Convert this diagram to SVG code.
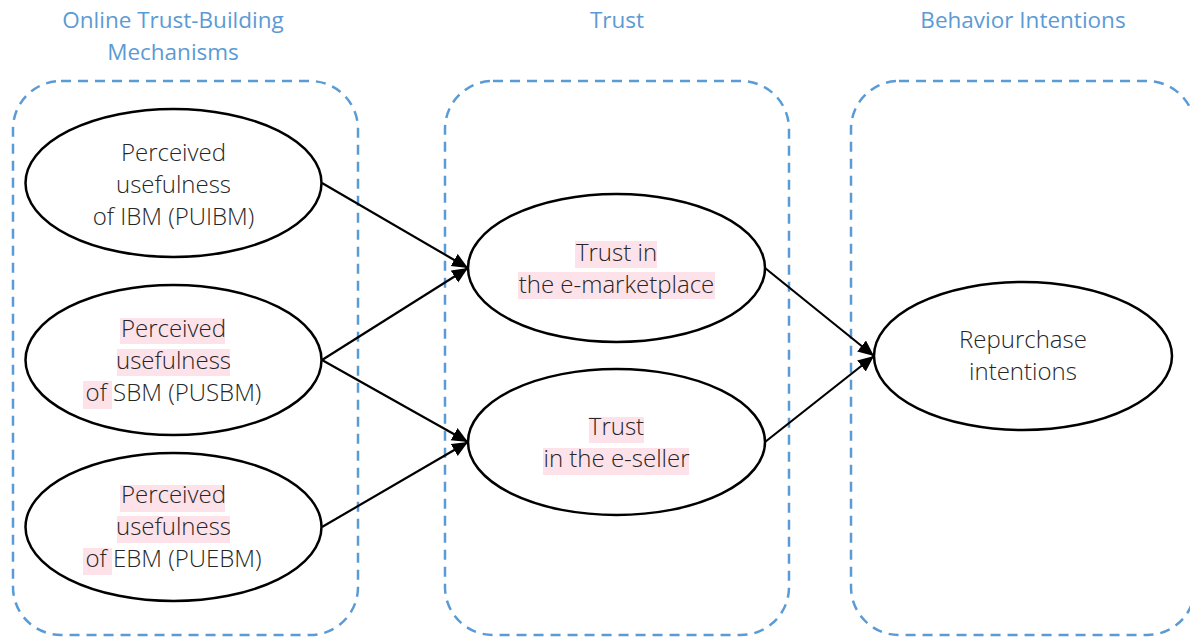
<svg xmlns="http://www.w3.org/2000/svg" width="1190" height="639" viewBox="0 0 1190 639">
<style>
.grp{fill:none;stroke:#5B9BD5;stroke-width:2.5;stroke-dasharray:10 7}
.ttl{font-family:"Open Sans","Liberation Sans",sans-serif;font-size:22.5px;fill:#5B9BD5;text-anchor:middle}
.el{fill:#fff;stroke:#000;stroke-width:2.5}
.lbl{font-family:"Open Sans","Liberation Sans",sans-serif;font-weight:300;font-size:24px;fill:#262626;text-anchor:middle}
.hl{fill:#FDE2E9}
.con{stroke:#000;stroke-width:2.2;fill:none;marker-end:url(#arr)}
</style>
<defs>
<marker id="arr" markerUnits="userSpaceOnUse" markerWidth="17" markerHeight="15" refX="16" refY="7" orient="auto">
<path d="M0,0 L16,7 L0,14 z" fill="#000"/>
</marker>
</defs>
<rect width="1190" height="639" fill="#fff"/>
<g id="groups">
<rect class="grp" x="13" y="81" width="345" height="554" rx="48"/>
<rect class="grp" x="445" y="81" width="344" height="554" rx="48"/>
<rect class="grp" x="851" y="81" width="344" height="554" rx="48"/>
<text class="ttl" x="173" y="28">Online Trust-Building</text>
<text class="ttl" x="173" y="60">Mechanisms</text>
<text class="ttl" x="617" y="28">Trust</text>
<text class="ttl" x="1023" y="28">Behavior Intentions</text>
</g>
<g id="connectors">
<line class="con" x1="322" y1="183" x2="468" y2="268"/>
<line class="con" x1="322" y1="360" x2="468" y2="268"/>
<line class="con" x1="322" y1="360" x2="468" y2="442"/>
<line class="con" x1="322" y1="527" x2="468" y2="442"/>
<line class="con" x1="765" y1="268" x2="874" y2="356"/>
<line class="con" x1="765" y1="442" x2="874" y2="356"/>
</g>
<g id="puibm">
<ellipse class="el" cx="173.5" cy="183" rx="148" ry="74"/>
<text class="lbl" x="173.5" y="161">Perceived</text>
<text class="lbl" x="173.5" y="193">usefulness</text>
<text class="lbl" x="173.5" y="225">of IBM (PUIBM)</text>
</g>
<g id="pusbm">
<ellipse class="el" cx="173.5" cy="360" rx="148" ry="75"/>
<rect class="hl" x="120" y="318" width="105" height="26"/>
<rect class="hl" x="117" y="349" width="113" height="27"/>
<rect class="hl" x="83" y="381" width="29" height="28"/>
<text class="lbl" x="173.5" y="337">Perceived</text>
<text class="lbl" x="173.5" y="369">usefulness</text>
<text class="lbl" x="173.5" y="401">of SBM (PUSBM)</text>
</g>
<g id="puebm">
<ellipse class="el" cx="173.5" cy="527" rx="148" ry="74"/>
<rect class="hl" x="120" y="485" width="105" height="27"/>
<rect class="hl" x="117" y="516" width="113" height="27"/>
<rect class="hl" x="83" y="548" width="29" height="27"/>
<text class="lbl" x="173.5" y="503">Perceived</text>
<text class="lbl" x="173.5" y="535">usefulness</text>
<text class="lbl" x="173.5" y="567">of EBM (PUEBM)</text>
</g>
<g id="trust-market">
<ellipse class="el" cx="616.5" cy="268" rx="148.5" ry="74"/>
<rect class="hl" x="575" y="241" width="82" height="27"/>
<rect class="hl" x="518" y="272" width="197" height="27"/>
<text class="lbl" x="616.5" y="261">Trust in</text>
<text class="lbl" x="616.5" y="293">the e-marketplace</text>
</g>
<g id="trust-seller">
<ellipse class="el" cx="616.5" cy="442" rx="148.5" ry="73"/>
<rect class="hl" x="589" y="417" width="55" height="26"/>
<rect class="hl" x="543" y="448" width="146" height="27"/>
<text class="lbl" x="616.5" y="435">Trust</text>
<text class="lbl" x="616.5" y="467">in the e-seller</text>
</g>
<g id="repurchase">
<ellipse class="el" cx="1023" cy="356" rx="149" ry="74"/>
<text class="lbl" x="1023" y="348">Repurchase</text>
<text class="lbl" x="1023" y="380">intentions</text>
</g>
</svg>
